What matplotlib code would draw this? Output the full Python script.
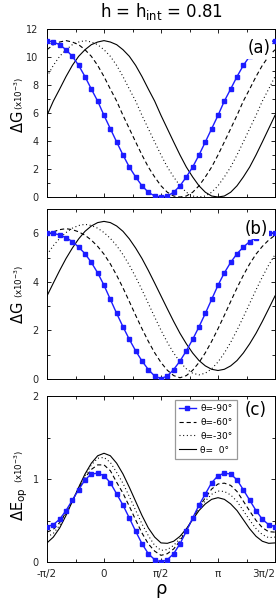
import numpy as np
import matplotlib
matplotlib.use("Agg")
import matplotlib.pyplot as plt
from matplotlib.ticker import MultipleLocator

# angulo rho en grados, de -pi/2 a 3pi/2 cada 10 grados
rho = np.arange(-90, 271, 10)

# panel (a): Delta G (x10^-3)
dG_a_m90 = [11.17, 11.07, 10.88, 10.52, 10.05, 9.40, 8.60, 7.71, 6.85, 5.83, 4.88, 3.93, 3.00, 2.14, 1.43, 0.80, 0.34, 0.07, 0.00,
            0.07, 0.34, 0.80, 1.43, 2.14, 3.00, 3.93, 4.88, 5.83, 6.85, 7.71, 8.60, 9.40, 10.05, 10.52, 10.88, 11.07, 11.17]
dG_a_m60 = [10.52, 10.88, 11.07, 11.17, 11.07, 10.88, 10.52, 10.05, 9.40, 8.60, 7.71, 6.85, 5.83, 4.88, 3.93, 3.00, 2.14, 1.43, 0.80,
            0.34, 0.07, 0.00, 0.07, 0.34, 0.80, 1.43, 2.14, 3.00, 3.93, 4.88, 5.83, 6.85, 7.71, 8.60, 9.40, 10.05, 10.52]
dG_a_m30 = [8.60, 9.40, 10.05, 10.52, 10.88, 11.07, 11.17, 11.07, 10.88, 10.52, 10.05, 9.40, 8.60, 7.71, 6.85, 5.83, 4.88, 3.93, 3.00,
            2.14, 1.43, 0.80, 0.34, 0.07, 0.00, 0.07, 0.34, 0.80, 1.43, 2.14, 3.00, 3.93, 4.88, 5.83, 6.85, 7.71, 8.60]
dG_a_0 = [5.83, 6.85, 7.71, 8.60, 9.40, 10.05, 10.52, 10.88, 11.07, 11.17, 11.07, 10.88, 10.52, 10.05, 9.40, 8.60, 7.71, 6.85, 5.83,
          4.88, 3.93, 3.00, 2.14, 1.43, 0.80, 0.34, 0.07, 0.00, 0.07, 0.34, 0.80, 1.43, 2.14, 3.00, 3.93, 4.88, 5.83]

# panel (b): Delta G (x10^-3)
dG_b_m90 = [6.03, 6.00, 5.93, 5.82, 5.66, 5.43, 5.16, 4.80, 4.37, 3.86, 3.28, 2.70, 2.15, 1.63, 1.16, 0.74, 0.39, 0.12, 0.02,
            0.12, 0.39, 0.74, 1.16, 1.63, 2.15, 2.70, 3.28, 3.86, 4.37, 4.80, 5.16, 5.43, 5.66, 5.82, 5.93, 6.00, 6.03]
dG_b_m60 = [5.92, 6.06, 6.15, 6.19, 6.15, 6.06, 5.92, 5.72, 5.46, 5.14, 4.74, 4.27, 3.75, 3.19, 2.62, 2.07, 1.55, 1.08, 0.68,
            0.36, 0.14, 0.05, 0.14, 0.36, 0.68, 1.08, 1.55, 2.07, 2.62, 3.19, 3.75, 4.27, 4.74, 5.14, 5.46, 5.72, 5.92]
dG_b_m30 = [5.12, 5.49, 5.79, 6.03, 6.21, 6.32, 6.37, 6.32, 6.21, 6.03, 5.79, 5.49, 5.12, 4.69, 4.20, 3.67, 3.11, 2.55, 2.01,
            1.51, 1.07, 0.70, 0.42, 0.24, 0.17, 0.24, 0.42, 0.70, 1.07, 1.51, 2.01, 2.55, 3.11, 3.67, 4.20, 4.69, 5.12]
dG_b_0 = [3.42, 3.95, 4.47, 4.96, 5.39, 5.77, 6.08, 6.30, 6.44, 6.49, 6.44, 6.30, 6.08, 5.77, 5.39, 4.96, 4.47, 3.95, 3.42,
          2.89, 2.37, 1.88, 1.45, 1.07, 0.76, 0.54, 0.40, 0.35, 0.40, 0.54, 0.76, 1.07, 1.45, 1.88, 2.37, 2.89, 3.42]

# panel (c): Delta E_op (x10^-3)
dE_m90 = [0.426, 0.45, 0.515, 0.62, 0.745, 0.87, 0.99, 1.06, 1.07, 1.04, 0.955, 0.82, 0.685, 0.53, 0.37, 0.22, 0.10, 0.028, 0.0,
          0.028, 0.10, 0.22, 0.37, 0.53, 0.685, 0.82, 0.955, 1.04, 1.07, 1.06, 0.99, 0.87, 0.745, 0.62, 0.515, 0.45, 0.426]
dE_m60 = [0.36, 0.393, 0.475, 0.597, 0.739, 0.881, 1.017, 1.115, 1.17, 1.17, 1.10, 0.96, 0.828, 0.671, 0.506, 0.349, 0.218, 0.131, 0.08,
          0.10, 0.157, 0.254, 0.381, 0.523, 0.661, 0.774, 0.879, 0.94, 0.95, 0.923, 0.85, 0.733, 0.614, 0.502, 0.414, 0.365, 0.36]
dE_m30 = [0.30, 0.345, 0.442, 0.578, 0.735, 0.891, 1.039, 1.17, 1.25, 1.26, 1.20, 1.079, 0.948, 0.789, 0.622, 0.458, 0.317, 0.20, 0.14,
          0.15, 0.20, 0.283, 0.391, 0.516, 0.64, 0.736, 0.816, 0.855, 0.85, 0.808, 0.731, 0.618, 0.504, 0.403, 0.33, 0.293, 0.30]
dE_0 = [0.23, 0.30, 0.41, 0.56, 0.73, 0.90, 1.06, 1.19, 1.28, 1.31, 1.28, 1.19, 1.06, 0.90, 0.73, 0.56, 0.41, 0.30, 0.23,
        0.225, 0.25, 0.31, 0.40, 0.51, 0.62, 0.70, 0.755, 0.775, 0.755, 0.70, 0.62, 0.51, 0.40, 0.31, 0.25, 0.225, 0.23]

etiquetas = ["θ=-90°", "θ=-60°", "θ=-30°", "θ=  0°"]
xticks = [-90, 0, 90, 180, 270]
xticklabels = ["-π/2", "0", "π/2", "π", "3π/2"]

W, H = 278, 601
azul = "#1c1cff"

fig = plt.figure(figsize=(W / 100, H / 100), dpi=100)


def caja(top, bottom):
    # posicion del eje en pixeles de la imagen
    return [47 / W, 1 - bottom / H, 228 / W, (bottom - top) / H]


def dibuja(ax, datos):
    m90, m60, m30, c0 = datos
    l0, = ax.plot(rho, c0, color="k", lw=0.8)
    l30, = ax.plot(rho, m30, color="k", lw=0.8, dashes=(0.9, 2.4))
    l60, = ax.plot(rho, m60, color="k", lw=0.8, dashes=(3.8, 2.6))
    l90, = ax.plot(rho, m90, color=azul, lw=1.0, marker="s", ms=2.5, zorder=3)
    return [l90, l60, l30, l0]


def formato(ax, ymax, ymayor, ymenor, letra, lx, ly):
    ax.set_xlim(-90, 270)
    ax.set_ylim(0, ymax)
    ax.set_xticks(xticks)
    ax.xaxis.set_minor_locator(MultipleLocator(45))
    ax.yaxis.set_major_locator(MultipleLocator(ymayor))
    ax.yaxis.set_minor_locator(MultipleLocator(ymenor))
    ax.tick_params(which="both", direction="in", top=True, right=True, labelsize=7, pad=6,
                   labelcolor="0.15")
    ax.tick_params(which="major", length=3.2, width=0.6)
    ax.tick_params(which="minor", length=2.4, width=0.6)
    for s in ax.spines.values():
        s.set_linewidth(0.7)
    ax.text(lx, ly, letra, transform=ax.transAxes, fontsize=12, ha="center", va="center",
            bbox=dict(facecolor="white", edgecolor="none", pad=1.0), zorder=5)


def ylabel(main, size, y_bottom, y_small):
    fig.text(23 / W, 1 - y_bottom / H, main, rotation=90, rotation_mode="anchor",
             ha="left", va="baseline", fontsize=size)
    fig.text(23 / W, 1 - y_small / H, r"(x10$^{-3}$)", rotation=90, rotation_mode="anchor",
             ha="left", va="baseline", fontsize=6.2)


ax1 = fig.add_axes(caja(29, 197))
dibuja(ax1, (dG_a_m90, dG_a_m60, dG_a_m30, dG_a_0))
formato(ax1, 12, 2, 1, "(a)", 0.93, 0.885)
ax1.set_xticklabels([])

ax2 = fig.add_axes(caja(209, 379))
dibuja(ax2, (dG_b_m90, dG_b_m60, dG_b_m30, dG_b_0))
formato(ax2, 7, 2, 1, "(b)", 0.917, 0.882)
ax2.set_xticklabels([])

ax3 = fig.add_axes(caja(396, 562))
lineas = dibuja(ax3, (dE_m90, dE_m60, dE_m30, dE_0))
formato(ax3, 2, 1, 0.5, "(c)", 0.917, 0.915)
ax3.set_xticklabels(xticklabels, fontsize=7.5)
ax3.tick_params(axis="x", pad=5)
ax3.get_xticklabels()[-1].set_horizontalalignment("right")
leg = ax3.legend(lineas, etiquetas, loc="upper left", bbox_to_anchor=(0.56, 0.978),
                 fontsize=6.5, frameon=True, fancybox=False, framealpha=1,
                 edgecolor="0.6", handlelength=1.9, handletextpad=0.5,
                 labelspacing=0.55, borderpad=0.45, borderaxespad=0)
leg.get_frame().set_linewidth(0.9)

# titulo y etiquetas
fig.text(161 / W, 1 - 17 / H, r"h = h$_{\rm int}$ = 0.81", ha="center", va="baseline", fontsize=12)
fig.text(161 / W, 1 - 594 / H, "ρ", ha="center", va="baseline", fontsize=13)
ylabel(r"$\Delta$G", 10.5, 133, 110)
ylabel(r"$\Delta$G", 10.5, 324, 298)
ylabel(r"$\Delta$E$_{\rm op}$", 10.5, 521, 483)

fig.savefig("out.png", dpi=100)
